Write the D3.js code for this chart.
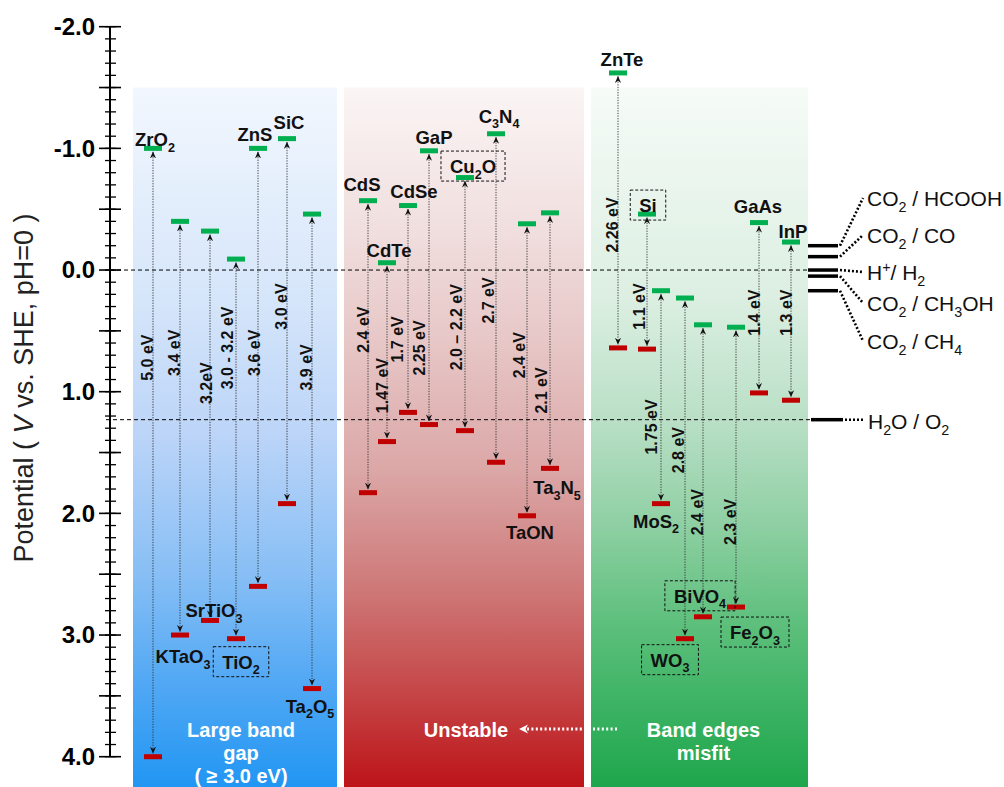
<!DOCTYPE html>
<html>
<head>
<meta charset="utf-8">
<script src="https://cdn.jsdelivr.net/npm/d3@7"></script>
<style>
  html, body { margin: 0; padding: 0; background: #fff; }
  svg { display: block; font-family: "Liberation Sans", Arial, sans-serif; }
</style>
</head>
<body>
<svg id="chart" width="1004" height="787"></svg>
<script>
// ---- data -----------------------------------------------------------------
const materials = ["ZrO2","KTaO3","SrTiO3","TiO2","ZnS","SiC","Ta2O5",
                   "CdS","CdTe","CdSe","GaP","Cu2O","C3N4","TaON","Ta3N5",
                   "ZnTe","Si","MoS2","WO3","BiVO4","Fe2O3","GaAs","InP"];
// conduction band minimum / valence band maximum (V vs. SHE, pH = 0)
const conductionBand = [-1.00,-0.40,-0.32,-0.09,-1.00,-1.08,-0.46,
                        -0.57,-0.06,-0.53,-0.98,-0.76,-1.12,-0.38,-0.47,
                        -1.62,-0.46, 0.17, 0.23, 0.45, 0.47,-0.39,-0.23];
const valenceBand    = [ 4.00, 3.00, 2.88, 3.03, 2.60, 1.92, 3.44,
                         1.83, 1.41, 1.17, 1.27, 1.32, 1.58, 2.02, 1.63,
                         0.64, 0.65, 1.92, 3.03, 2.85, 2.77, 1.01, 1.07];
const gapLabels = ["5.0 eV","3.4 eV","3.2eV","3.0 - 3.2 eV","3.6 eV","3.0 eV","3.9 eV",
                   "2.4 eV","1.47 eV","1.7 eV","2.25 eV","2.0 \u2013 2.2 eV","2.7 eV","2.4 eV","2.1 eV",
                   "2.26 eV","1.1 eV","1.75 eV","2.8 eV","2.4 eV","2.3 eV","1.4 eV","1.3 eV"];
const boxedMaterials = ["TiO2","Cu2O","Si","BiVO4","WO3","Fe2O3"];

const groupNames = [["Large band", "gap", "( \u2265 3.0 eV)"], ["Unstable"], ["Band edges", "misfit"]];

const redoxCouples = ["CO2 / HCOOH","CO2 / CO","H+/ H2","CO2 / CH3OH","CO2 / CH4"];
const redoxPotentials = [-0.20, -0.11, 0.00, 0.05, 0.17];
const waterCouple = "H2O / O2";
const waterPotential = 1.23;

const tickValues = [-2, -1, 0, 1, 2, 3, 4];
const tickLabels = ["-2.0", "-1.0", "0.0", "1.0", "2.0", "3.0", "4.0"];

// ---- layout ---------------------------------------------------------------
// column slot of each material on the horizontal layout scale
const columnSlot = [4.5, 7.2, 10.2, 12.8, 15.0, 17.9, 20.4,
                    26.0, 27.9, 30.0, 32.1, 35.7, 38.8, 41.9, 44.2,
                    51.0, 53.9, 55.3, 57.7, 59.5, 62.8, 65.1, 68.3];
// which band edge each name label hangs from, and its offset in px (dx, baseline dy)
const nameAnchor = ["cb","vb","vb","vb","cb","cb","vb",
                    "cb","cb","cb","cb","cb","cb","vb","vb",
                    "cb","cb","vb","vb","vb","vb","cb","cb"];
const nameOffset = [[2,-2],[3,28],[4,-3],[5,30],[-3,-7],[2,-10],[-2,24],
                    [-6,-10],[2,-6],[6,-8],[5,-7],[8,-4.5],[3,-11],[3,23],[7,26],
                    [4,-7],[1,-2],[-5,24],[-15,28],[-3,-14],[19,32],[-1,-10],[2,-4]];
// potential where each rotated gap label is centred, and its sideways shift in px
const gapLabelAt = [0.72, 0.68, 0.93, 0.64, 0.68, 0.30, 0.80,
                    0.49, 0.95, 0.57, 0.64, 0.47, 0.25, 0.70, 0.99,
                    -0.37, 0.30, 1.29, 1.48, 1.99, 2.07, 0.35, 0.35];
const gapLabelShift = [0, 0, 2, -3, 2, 0, 0,
                       1, 1, -5, -4, -3, -2, -2, -3,
                       0, -2, -4, -1, 0, 0, 1, 1];
const groupSpan = [[2.5, 22.9], [23.6, 47.6], [48.3, 70.0]];
const groupLabelDx = [6, 2, 4];
const redoxLabelY = [202, 239, 276, 307, 345];

// ---- chart ----------------------------------------------------------------
const W = 1004, H = 787;
const svg = d3.select("#chart");
const font = '"Liberation Sans", Arial, sans-serif';

const y = d3.scaleLinear().domain([-2, 4]).range([26.7, 756.7]);
const x = d3.scaleLinear().domain([0, 70]).range([108, 808]);

const defs = svg.append("defs");

const gradients = [
  { id: "gBlue", stops: [[0,"#f2f7fe"],[0.3,"#d6e6fa"],[0.5,"#bbd4f8"],[0.7,"#86bef5"],[0.85,"#52a8f4"],[1,"#2196f3"]] },
  { id: "gRed",  stops: [[0,"#fbf5f5"],[0.2,"#f1dfdf"],[0.38,"#e6c4c4"],[0.55,"#dba6a6"],[0.72,"#ce7777"],[0.87,"#c54445"],[1,"#bd1419"]] },
  { id: "gGreen",stops: [[0,"#f6fbf7"],[0.3,"#dcefe2"],[0.48,"#b8dfc5"],[0.63,"#8dcfa2"],[0.77,"#5cbf7b"],[0.9,"#37b160"],[1,"#1ea64c"]] }
];
gradients.forEach(g => {
  const lg = defs.append("linearGradient").attr("id", g.id)
    .attr("x1", 0).attr("y1", 0).attr("x2", 0).attr("y2", 1);
  g.stops.forEach(s => lg.append("stop").attr("offset", s[0]).attr("stop-color", s[1]));
});

defs.append("marker")
  .attr("id", "tip")
  .attr("viewBox", "0 0 8 8")
  .attr("refX", 7.5).attr("refY", 4)
  .attr("markerWidth", 7).attr("markerHeight", 7)
  .attr("markerUnits", "userSpaceOnUse")
  .attr("orient", "auto-start-reverse")
  .append("path")
  .attr("d", "M0,0.5 L8,4 L0,7.5 L2.6,4 Z")
  .attr("fill", "#111");

defs.append("marker")
  .attr("id", "whiteTip")
  .attr("viewBox", "0 0 10 10")
  .attr("refX", 3).attr("refY", 5)
  .attr("markerWidth", 10).attr("markerHeight", 10)
  .attr("markerUnits", "userSpaceOnUse")
  .attr("orient", "auto")
  .append("path")
  .attr("d", "M10,5 L1,0.5 L3.5,5 L1,9.5 Z")
  .attr("fill", "#fff");

// group background panels
const panelTop = y(-1.5);
svg.append("g").selectAll("rect")
  .data(groupSpan)
  .join("rect")
  .attr("x", d => x(d[0]))
  .attr("width", d => x(d[1]) - x(d[0]))
  .attr("y", panelTop)
  .attr("height", H - panelTop)
  .attr("fill", (d, i) => `url(#${gradients[i].id})`);

// reference potentials: H+/H2 and O2/H2O
svg.append("line")
  .attr("x1", 110).attr("x2", x(70))
  .attr("y1", y(0)).attr("y2", y(0))
  .attr("stroke", "#000").attr("stroke-width", 1).attr("stroke-dasharray", "4,3");
svg.append("line")
  .attr("x1", 106).attr("x2", 812)
  .attr("y1", y(waterPotential)).attr("y2", y(waterPotential))
  .attr("stroke", "#000").attr("stroke-width", 1).attr("stroke-dasharray", "4,3");

// ---- axis -----------------------------------------------------------------
const axisX = 110;
const axisG = svg.append("g").attr("transform", `translate(${axisX},0)`);
axisG.append("line")
  .attr("x1", 0).attr("x2", 0)
  .attr("y1", y(-2)).attr("y2", y(4))
  .attr("stroke", "#000").attr("stroke-width", 2);
axisG.selectAll("line.minor")
  .data(y.ticks(60))
  .join("line").attr("class", "minor")
  .attr("x1", -5).attr("x2", 6)
  .attr("y1", d => y(d)).attr("y2", d => y(d))
  .attr("stroke", "#000").attr("stroke-width", 1.3);
axisG.selectAll("line.half")
  .data(y.ticks(12))
  .join("line").attr("class", "half")
  .attr("x1", -11).attr("x2", 11)
  .attr("y1", d => y(d)).attr("y2", d => y(d))
  .attr("stroke", "#000").attr("stroke-width", 1.6);

const axis = d3.axisLeft(y)
  .tickValues(tickValues)
  .tickFormat((d, i) => tickLabels[i])
  .tickSize(0)
  .tickPadding(15);
const axisLabels = svg.append("g").attr("transform", `translate(${axisX},0)`).call(axis);
axisLabels.select(".domain").remove();
axisLabels.selectAll("text")
  .attr("font-family", font)
  .attr("font-size", 24)
  .attr("font-weight", "bold")
  .attr("fill", "#000");

const yTitle = svg.append("text")
  .attr("transform", `translate(33,${388}) rotate(-90)`)
  .attr("text-anchor", "middle")
  .attr("font-size", 27)
  .attr("fill", "#222");
yTitle.append("tspan").text("Potential ( ");
yTitle.append("tspan").attr("font-style", "italic").text("V");
yTitle.append("tspan").text(" vs. SHE, pH=0 )");

// ---- helpers --------------------------------------------------------------
function chemText(sel, str, size) {
  const parts = str.match(/\d+|\+|[^\d+]+/g);
  let shift = 0;
  parts.forEach(p => {
    let target = 0, small = false;
    if (/^\d+$/.test(p)) { target = 0.3 * size; small = true; }
    else if (p === "+") { target = -0.38 * size; small = true; }
    const t = sel.append("tspan").text(p).attr("dy", target - shift);
    if (small) t.attr("font-size", size * 0.68);
    shift = target;
  });
}

// ---- band gap arrows, band edges, labels ----------------------------------
const rows = materials.map((m, i) => ({
  name: m, cb: conductionBand[i], vb: valenceBand[i], gap: gapLabels[i],
  slot: columnSlot[i], anchor: nameAnchor[i], off: nameOffset[i],
  gapAt: gapLabelAt[i], gapShift: gapLabelShift[i]
}));

const arrows = svg.append("g");
arrows.selectAll("line")
  .data(rows)
  .join("line")
  .attr("x1", d => x(d.slot)).attr("x2", d => x(d.slot))
  .attr("y1", d => y(d.cb) + 3.5)
  .attr("y2", d => y(d.vb) - 3.5)
  .attr("stroke", "#333")
  .attr("stroke-width", 0.9)
  .attr("stroke-dasharray", "1.3,1.3")
  .attr("marker-start", "url(#tip)")
  .attr("marker-end", "url(#tip)");

svg.append("g").selectAll("text")
  .data(rows)
  .join("text")
  .attr("transform", d => `translate(${x(d.slot) + d.gapShift},${y(d.gapAt)}) rotate(-90)`)
  .attr("text-anchor", "middle")
  .attr("font-size", 16)
  .attr("font-weight", "bold")
  .attr("fill", "#111")
  .text(d => d.gap);

const barW = 18, barH = 5;
svg.append("g").selectAll("rect")
  .data(rows)
  .join("rect")
  .attr("x", d => x(d.slot) - barW / 2)
  .attr("y", d => y(d.cb) - barH / 2)
  .attr("width", barW).attr("height", barH)
  .attr("fill", "#00b050");
svg.append("g").selectAll("rect")
  .data(rows)
  .join("rect")
  .attr("x", d => x(d.slot) - barW / 2)
  .attr("y", d => y(d.vb) - barH / 2)
  .attr("width", barW).attr("height", barH)
  .attr("fill", "#c00000");

const names = svg.append("g");
rows.forEach(d => {
  const bx = x(d.slot) + d.off[0];
  const by = y(d.anchor === "cb" ? d.cb : d.vb) + d.off[1];
  const t = names.append("text")
    .attr("x", bx).attr("y", by)
    .attr("text-anchor", "middle")
    .attr("font-size", 18.5)
    .attr("font-weight", "bold")
    .attr("fill", "#111");
  chemText(t, d.name, 18.5);
  if (boxedMaterials.includes(d.name)) {
    const bb = t.node().getBBox();
    names.insert("rect", "text")
      .attr("x", bb.x - 9).attr("y", by - 22)
      .attr("width", bb.width + 18).attr("height", 30)
      .attr("fill", "none")
      .attr("stroke", "#111").attr("stroke-width", 1)
      .attr("stroke-dasharray", "3,2");
  }
});

// ---- group captions -------------------------------------------------------
groupNames.forEach((lines, gi) => {
  const cx = (x(groupSpan[gi][0]) + x(groupSpan[gi][1])) / 2 + groupLabelDx[gi];
  lines.forEach((ln, li) => {
    svg.append("text")
      .attr("x", cx).attr("y", 737 + li * 23)
      .attr("text-anchor", "middle")
      .attr("font-size", 20)
      .attr("font-weight", "bold")
      .attr("fill", "#fff")
      .text(ln);
  });
});
svg.append("line")
  .attr("x1", 617).attr("x2", 526)
  .attr("y1", 729).attr("y2", 729)
  .attr("stroke", "#fff").attr("stroke-width", 3)
  .attr("stroke-dasharray", "2,2.4")
  .attr("marker-end", "url(#whiteTip)");

// ---- CO2 reduction / water redox levels -----------------------------------
const redox = svg.append("g");
redoxPotentials.forEach((p, i) => {
  redox.append("line")
    .attr("x1", 808).attr("x2", 838)
    .attr("y1", y(p)).attr("y2", y(p))
    .attr("stroke", "#000").attr("stroke-width", 3.5);
  redox.append("line")
    .attr("x1", 840).attr("x2", 863)
    .attr("y1", y(p)).attr("y2", redoxLabelY[i] - 4)
    .attr("stroke", "#000").attr("stroke-width", 2.6)
    .attr("stroke-dasharray", "2,2");
  const t = redox.append("text")
    .attr("x", 867).attr("y", redoxLabelY[i] + 4)
    .attr("font-size", 21)
    .attr("fill", "#111");
  chemText(t, redoxCouples[i], 21);
});
redox.append("line")
  .attr("x1", 811).attr("x2", 843)
  .attr("y1", y(waterPotential)).attr("y2", y(waterPotential))
  .attr("stroke", "#000").attr("stroke-width", 3.5);
redox.append("line")
  .attr("x1", 845).attr("x2", 864)
  .attr("y1", y(waterPotential)).attr("y2", y(waterPotential))
  .attr("stroke", "#000").attr("stroke-width", 2.6)
  .attr("stroke-dasharray", "2,2");
const wt = redox.append("text")
  .attr("x", 868).attr("y", y(waterPotential) + 9)
  .attr("font-size", 21)
  .attr("fill", "#111");
chemText(wt, waterCouple, 21);
</script>
</body>
</html>
